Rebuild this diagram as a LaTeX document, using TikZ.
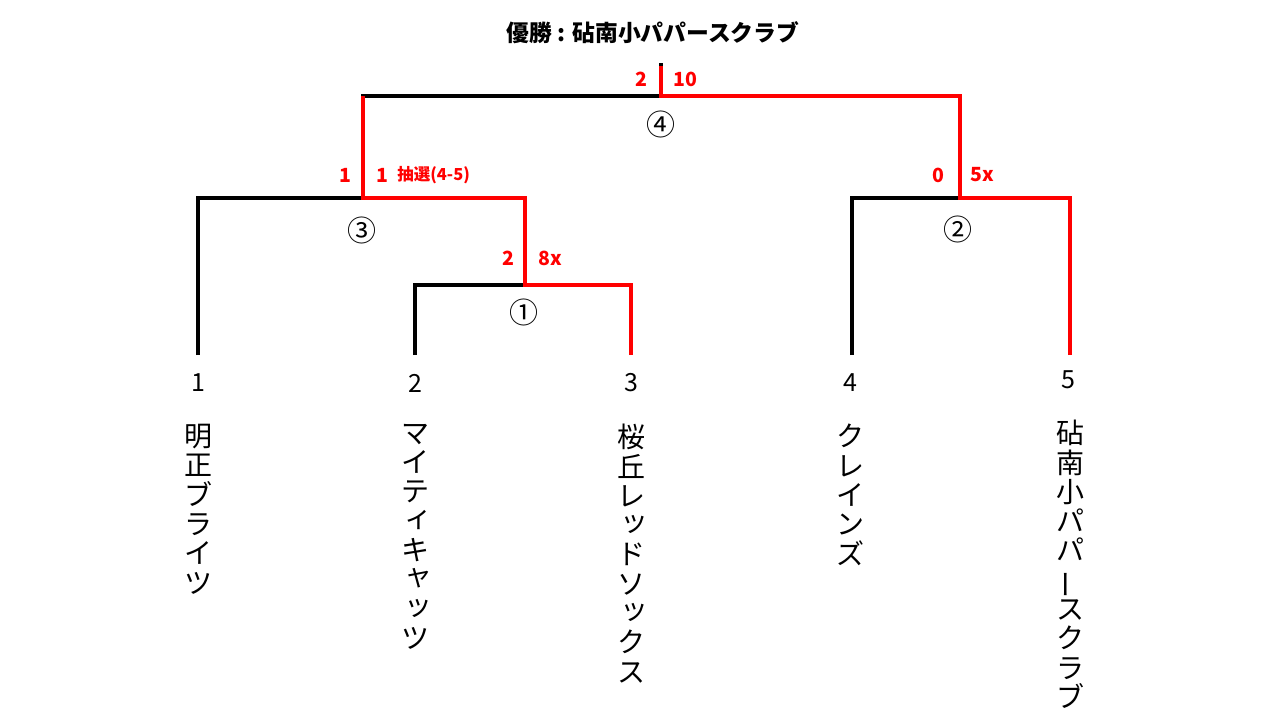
\documentclass[tikz,border=0pt]{standalone}
\usepackage{fontspec}
\setmainfont{Noto Sans CJK JP}
\newfontfamily\tatefont{Noto Sans CJK JP}
\usetikzlibrary{positioning}
\definecolor{wRed}{HTML}{FF0000}
% small kana and long vowel mark in vertical writing
\newcommand{\kogaki}[1]{\makebox[1em][l]{\hspace{0.14em}\raisebox{0.14em}{#1}}}
\newcommand{\chouon}{\rotatebox[origin=c]{90}{ー}}

\begin{document}
\begin{tikzpicture}[x=1pt, y=-1pt,
  bracket/.style={line width=3.6pt, black},
  winner/.style={line width=3.4pt, wRed, xshift=2pt, yshift=-1.5pt},
  score/.style={font=\bfseries\fontsize{19.5}{20}\selectfont, text=wRed, inner sep=0pt},
  matchno/.style={font=\fontsize{29}{30}\selectfont, inner sep=0pt},
  seed/.style={font=\fontsize{25}{26}\selectfont, inner sep=0pt},
  team/.style={font=\tatefont\fontsize{28}{29.3}\selectfont, align=center, anchor=north, inner sep=0pt}]
  \useasboundingbox (0,0) rectangle (1280,720);
  % team ends and match points
  \coordinate (t1) at (198,355);
  \coordinate (t2) at (415,355);
  \coordinate (t3) at (631,355);
  \coordinate (t4) at (852,355);
  \coordinate (t5) at (1070,355);
  \coordinate (m1) at (525,285);
  \coordinate (m2) at (960,198);
  \coordinate (m3) at (363,198);
  \coordinate (m4) at (661,96);
  \coordinate (champ) at (661,63);
  % bracket
  \draw[bracket] (t1) |- (m3) -| (m1);
  \draw[bracket] (t2) |- (m1) -| (t3);
  \draw[bracket] (t4) |- (m2) -| (t5);
  \draw[bracket] (m3) |- (m4) -| (m2);
  \draw[bracket] (m4) -- (champ);
  % winners
  \draw[winner] (t3) |- (m1) |- (m3) -- (m3 |- m4);
  \draw[winner] (t5) |- (m2) |- (m4) -- ([yshift=-3pt]champ);
  % title
  \node[font=\bfseries\fontsize{22.8}{24}\selectfont] (title) at (653,33) {優勝 : 砧南小パパースクラブ};
  % scores
  \node[score] (s4a) at (641,79) {2};
  \node[score] (s4b) at (685,79) {10};
  \node[score] (s3a) at (345,175) {1};
  \node[score] (s3b) at (382,175) {1};
  \node[score, font=\bfseries\fontsize{16.5}{18}\selectfont, right=9pt of s3b] (lot) {抽選(4-5)};
  \node[score] (s1a) at (508,258) {2};
  \node[score] (s1b) at (550,258) {8x};
  \node[score] (s2a) at (938,175) {0};
  \node[score] (s2b) at (982,175) {5x};
  % match numbers
  \node[matchno] (c1) at (524,312) {①};
  \node[matchno] (c2) at (958,229) {②};
  \node[matchno] (c3) at (362,230) {③};
  \node[matchno] (c4) at (661,124) {④};
  % seeds
  \node[seed] (n1) at (198,383) {1};
  \node[seed] (n2) at (415,383) {2};
  \node[seed] (n3) at (631,383) {3};
  \node[seed] (n4) at (850,383) {4};
  \node[seed] (n5) at (1068,380) {5};
  % team names
  \node[team] (name1) at (198,424) {明\\正\\ブ\\ラ\\イ\\ツ};
  \node[team] (name2) at (415,424) {マ\\イ\\テ\\\kogaki{ィ}\\キ\\\kogaki{ャ}\\\kogaki{ッ}\\ツ};
  \node[team] (name3) at (631,424) {桜\\丘\\レ\\\kogaki{ッ}\\ド\\ソ\\\kogaki{ッ}\\ク\\ス};
  \node[team] (name4) at (850,424) {ク\\レ\\イ\\ン\\ズ};
  \node[team] (name5) at (1070,420) {砧\\南\\小\\パ\\パ\\\chouon\\ス\\ク\\ラ\\ブ};
\end{tikzpicture}
\end{document}
